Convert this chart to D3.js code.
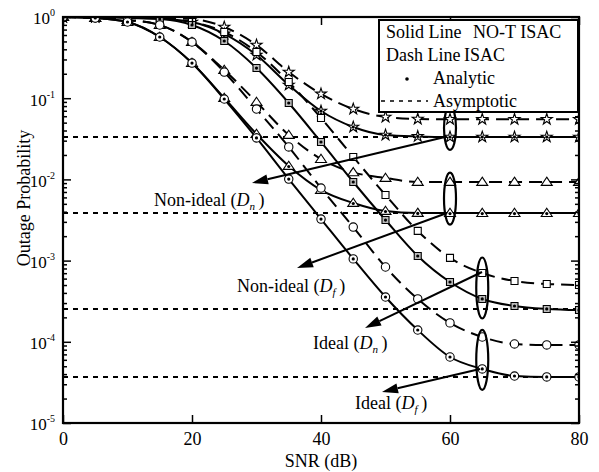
<!DOCTYPE html>
<html><head><meta charset="utf-8">
<script src="https://cdn.jsdelivr.net/npm/d3@7"></script>
<style>body{margin:0;background:#fff}svg{display:block}svg text{font-family:"Liberation Serif","Times New Roman",serif !important;fill:#000}</style>
</head><body><svg id="c" width="599" height="472" font-family="Liberation Serif"></svg>
<script>
// ---- data ----
const snr = [0,5,10,15,20,25,30,35,40,45,50,55,60,65,70,75,80];
const isacNonIdealDn = [1,1,0.986,0.972,0.945,0.753,0.452,0.210,0.113,0.0736,0.0587,0.0554,0.055,0.055,0.055,0.055,0.055];
const notNonIdealDn  = [1,1,0.986,0.958,0.868,0.62,0.34,0.1455,0.0695,0.0442,0.0352,0.0338,0.0333,0.0333,0.0333,0.0333,0.0333];
const isacIdealDn    = [1,1,0.986,0.958,0.868,0.653,0.371,0.158,0.0571,0.0189,0.00643,0.00232,0.00108,0.000703,0.000561,0.000515,0.000501];
const notIdealDn     = [1,1,0.972,0.945,0.797,0.506,0.235,0.0873,0.0289,0.00929,0.00316,0.00114,0.000545,0.000337,0.000276,0.000254,0.000246];
const isacNonIdealDf = [1,0.972,0.918,0.797,0.492,0.2225,0.0898,0.0352,0.0178,0.0122,0.0104,0.00929,0.0093,0.0093,0.0093,0.0093,0.0093];
const notNonIdealDf  = [1,0.972,0.868,0.567,0.271,0.1006,0.0362,0.01462,0.0074,0.00512,0.00408,0.00386,0.00385,0.00385,0.00385,0.00385,0.00385];
const isacIdealDf    = [1,0.972,0.918,0.797,0.492,0.210,0.0736,0.0251,0.00783,0.00259,0.000834,0.000337,0.000171,0.0001146,0.000094,0.0000914,0.0000914];
const notIdealDf     = [1,0.972,0.868,0.567,0.271,0.0977,0.0324,0.0101,0.00325,0.00105,0.000356,0.0001397,0.000065,0.0000463,0.0000379,0.0000369,0.0000369];
const asymptotes = [0.0333, 0.00386, 0.000254, 0.0000369];
const xTicks = [0,20,40,60,80];
const yTicks = [1,1e-1,1e-2,1e-3,1e-4,1e-5];
const yTickExp = ["0","-1","-2","-3","-4","-5"];
const legendText = ["Solid Line","NO-T ISAC","Dash Line","ISAC","Analytic","Asymptotic"];
const groupLabels = [
  {pre:"Non-ideal (", sub:"n"},
  {pre:"Non-ideal (", sub:"f"},
  {pre:"Ideal (", sub:"n"},
  {pre:"Ideal (", sub:"f"}
];

// ---- layout ----
const L=63,R=579,T=17,B=423;
const FONT="Liberation Serif";
const svg=d3.select("#c");
const x=d3.scaleLinear([0,80],[L,R]);
const y=d3.scaleLog([1e-5,1],[B,T]);

svg.append("defs").append("clipPath").attr("id","clip")
  .append("rect").attr("x",L).attr("y",T).attr("width",R-L).attr("height",B-T);

const series=[
  {v:isacNonIdealDn,dash:true,m:"star"},
  {v:notNonIdealDn,dash:false,m:"star"},
  {v:isacNonIdealDf,dash:true,m:"tri"},
  {v:notNonIdealDf,dash:false,m:"tri"},
  {v:isacIdealDn,dash:true,m:"sq"},
  {v:notIdealDn,dash:false,m:"sq"},
  {v:isacIdealDf,dash:true,m:"circ"},
  {v:notIdealDf,dash:false,m:"circ"}
];

const plot=svg.append("g").attr("clip-path","url(#clip)");

asymptotes.forEach(a=>{
  plot.append("line").attr("x1",x(0)).attr("x2",x(80)).attr("y1",y(a)).attr("y2",y(a))
    .attr("stroke","#000").attr("stroke-width",2).attr("stroke-dasharray","5,5");
});

const line=d3.line().x((d,i)=>x(snr[i])).y(d=>y(d)).curve(d3.curveMonotoneX);
series.forEach(s=>{
  plot.append("path").attr("d",line(s.v)).attr("fill","none").attr("stroke","#000")
    .attr("stroke-width",2).attr("stroke-dasharray",s.dash?"13,7":null);
});

const shapes={
  star:d3.symbol(d3.symbolStar,38)(),
  tri:"M0,-4.8L5.5,3.4L-5.5,3.4Z",
  sq:"M-3.5,-3.5H3.5V3.5H-3.5Z",
  circ:d3.symbol(d3.symbolCircle,55)()
};
series.forEach(s=>{
  s.v.forEach((d,i)=>{
    const g=plot.append("g").attr("transform",`translate(${x(snr[i])},${y(d)})`);
    g.append("path").attr("d",shapes[s.m]).attr("fill",(!s.dash&&s.m==="sq")?"#bbb":"#fff").attr("stroke","#000").attr("stroke-width",1.1);
    if(!s.dash) g.append("circle").attr("r",1.6).attr("cy",s.m==="tri"?0.5:0).attr("fill","#000");
  });
});

// ellipses
const ells=[{s:60,v:0.043,ry:22},{s:60,v:0.0058,ry:26},{s:65,v:0.00046,ry:30.5},{s:65,v:0.00006,ry:30}];
ells.forEach(e=>{
  svg.append("ellipse").attr("cx",x(e.s)).attr("cy",y(e.v)).attr("rx",6).attr("ry",e.ry)
    .attr("fill","none").attr("stroke","#000").attr("stroke-width",2.2);
});

// arrows
const arrows=[
  {x1:445,y1:137,x2:252,y2:183},
  {x1:447,y1:213,x2:297,y2:268},
  {x1:482,y1:272,x2:365,y2:328},
  {x1:480,y1:369,x2:382,y2:392}
];
arrows.forEach(a=>{
  const ang=Math.atan2(a.y2-a.y1,a.x2-a.x1);
  const hl=16,hw=5;
  const bx=a.x2-hl*Math.cos(ang), by=a.y2-hl*Math.sin(ang);
  svg.append("line").attr("x1",a.x1).attr("y1",a.y1).attr("x2",bx).attr("y2",by)
    .attr("stroke","#000").attr("stroke-width",2);
  const px=-Math.sin(ang)*hw, py=Math.cos(ang)*hw;
  svg.append("path").attr("d",`M${a.x2},${a.y2}L${bx+px},${by+py}L${bx-px},${by-py}Z`).attr("fill","#000");
});

// group labels
const labPos=[[154,206],[237,292],[313,349],[355,409]];
groupLabels.forEach((g,i)=>{
  const t=svg.append("text").attr("x",labPos[i][0]).attr("y",labPos[i][1]).attr("font-size",18).attr("font-family",FONT);
  t.append("tspan").text(g.pre);
  t.append("tspan").attr("font-style","italic").text("D");
  t.append("tspan").attr("font-style","italic").attr("font-size",11).attr("dy",4).text(g.sub);
  t.append("tspan").attr("dy",-4).text("\u2009)");
});

// axes
const fr=svg.append("g");
const ax=(gen,tr)=>fr.append("g").attr("transform",tr).call(gen).attr("font-family",FONT)
  .call(g=>g.select(".domain").remove())
  .call(g=>g.selectAll("line").attr("stroke-width",1.5));
ax(d3.axisBottom(x).tickValues(xTicks).tickSize(-8).tickPadding(9),`translate(0,${B})`)
  .selectAll("text").attr("font-size",18);
ax(d3.axisTop(x).tickValues(xTicks).tickSize(-8).tickFormat(""),`translate(0,${T})`);
const minor=[];
for(let k=-5;k<0;k++) for(let m=2;m<10;m++) minor.push(m*Math.pow(10,k));
ax(d3.axisLeft(y).tickValues(minor).tickSize(-4).tickFormat(""),`translate(${L},0)`);
ax(d3.axisRight(y).tickValues(minor).tickSize(-4).tickFormat(""),`translate(${R},0)`);
ax(d3.axisRight(y).tickValues(yTicks).tickSize(-8).tickFormat(""),`translate(${R},0)`);
const yl=ax(d3.axisLeft(y).tickValues(yTicks).tickSize(-8).tickPadding(8).tickFormat(""),`translate(${L},0)`);
yl.selectAll(".tick text").each(function(d,i){
  const t=d3.select(this).attr("font-size",17).attr("dy","0.4em");
  t.append("tspan").text("10");
  t.append("tspan").attr("font-size",10).attr("dy","-0.8em").text(yTickExp[i]);
});
fr.append("rect").attr("x",L).attr("y",T).attr("width",R-L).attr("height",B-T)
  .attr("fill","none").attr("stroke","#000").attr("stroke-width",2.2);

// legend
const lg=svg.append("g").attr("font-family",FONT);
lg.append("rect").attr("x",379).attr("y",20).attr("width",199).attr("height",92)
  .attr("fill","#fff").attr("stroke","#000").attr("stroke-width",2);
const lt=(s,xx,yy)=>lg.append("text").attr("x",xx).attr("y",yy).attr("font-size",18).text(s);
lt(legendText[0],386,38); lt(legendText[1],473,38);
lt(legendText[2],386,61); lt(legendText[3],464,61);
lg.append("circle").attr("cx",407).attr("cy",79).attr("r",1.8).attr("fill","#000");
lt(legendText[4],433,84);
lg.append("line").attr("x1",381).attr("x2",428).attr("y1",101).attr("y2",101)
  .attr("stroke","#000").attr("stroke-width",1.6).attr("stroke-dasharray","4,5");
lt(legendText[5],433,107);

// axis titles
svg.append("text").attr("x",L+(R-L)/2).attr("y",467).attr("text-anchor","middle").attr("font-size",18).attr("font-family",FONT).text("SNR (dB)");
svg.append("text").attr("transform","translate(30,198) rotate(-90)").attr("text-anchor","middle").attr("font-size",18).attr("font-family",FONT).text("Outage Probability");
</script></body></html>
